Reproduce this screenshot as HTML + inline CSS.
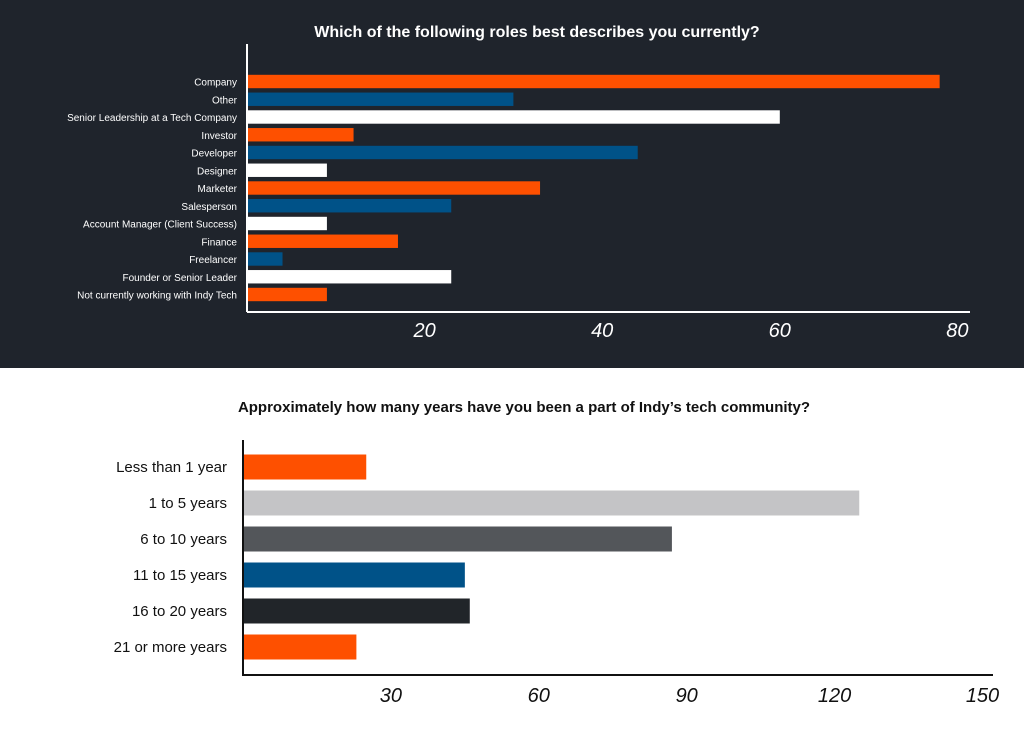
<!DOCTYPE html>
<html><head><meta charset="utf-8"><style>
body{margin:0;width:1024px;height:732px;background:#fff;overflow:hidden;font-family:"Liberation Sans",sans-serif}
svg{display:block}
</style></head><body>
<svg id="c" width="1024" height="732"></svg>
<script>
const topCats=["Company","Other","Senior Leadership at a Tech Company","Investor","Developer","Designer","Marketer","Salesperson","Account Manager (Client Success)","Finance","Freelancer","Founder or Senior Leader","Not currently working with Indy Tech"];
const topVals=[78,30,60,12,44,9,33,23,9,17,4,23,9];
const topTicks=[20,40,60,80];
const botCats=["Less than 1 year","1 to 5 years","6 to 10 years","11 to 15 years","16 to 20 years","21 or more years"];
const botVals=[25,125,87,45,46,23];
const botTicks=[30,60,90,120,150];
const NS="http://www.w3.org/2000/svg";
const svg=document.getElementById('c');
function mk(t,a,txt){const e=document.createElementNS(NS,t);for(const k in a)e.setAttribute(k,a[k]);if(txt!=null)e.textContent=txt;svg.appendChild(e);return e;}
// top panel
let e=mk('rect',{x:0,y:0,width:1024,height:368,fill:'#1f242c'});


e=mk('text',{x:537,y:37,'text-anchor':'middle','font-size':16,'font-weight':'bold',fill:'#fff'},'Which of the following roles best describes you currently?');


const tx=v=>247+v*8.88;
const topColors=['#fe5000','#005288','#ffffff'];
topCats.forEach((c,i)=>{
  const yc=81.5+i*17.75;
  let b=mk('rect',{x:248,y:yc-6.7,width:tx(topVals[i])-248,height:13.4,fill:topColors[i%3]});
  
  
  let l=mk('text',{x:237,y:yc+4,'text-anchor':'end','font-size':10,fill:'#fff'},c);
  
  
});
e=mk('line',{x1:247,y1:44,x2:247,y2:312,stroke:'#fff','stroke-width':2});


e=mk('line',{x1:247,y1:312,x2:970,y2:312,stroke:'#fff','stroke-width':2});


topTicks.forEach(t=>{
  let l=mk('text',{x:tx(t),y:337,'text-anchor':'middle','font-size':20,'font-style':'italic',fill:'#fff'},t);
  
  
});
// bottom panel
e=mk('text',{x:524,y:412,'text-anchor':'middle','font-size':15,'font-weight':'bold',fill:'#111'},'Approximately how many years have you been a part of Indy\u2019s tech community?');


const bx=v=>243+v*4.93;
const botColors=['#fe5000','#c4c4c6','#53565a','#005288','#212529','#fe5000'];
const botY=[467,503,540,576,610,647];
botCats.forEach((c,i)=>{
  const yc=467+i*36;
  let b=mk('rect',{x:244,y:yc-12.5,width:bx(botVals[i])-244,height:25,fill:botColors[i]});
  
  
  let l=mk('text',{x:227,y:yc+5,'text-anchor':'end','font-size':15,fill:'#111'},c);
  
  
});
e=mk('line',{x1:243,y1:440,x2:243,y2:676,stroke:'#111','stroke-width':2});


e=mk('line',{x1:243,y1:675,x2:993,y2:675,stroke:'#111','stroke-width':2});


botTicks.forEach(t=>{
  let l=mk('text',{x:bx(t),y:702,'text-anchor':'middle','font-size':20,'font-style':'italic',fill:'#111'},t);
  
  
});
</script>
</body></html>
